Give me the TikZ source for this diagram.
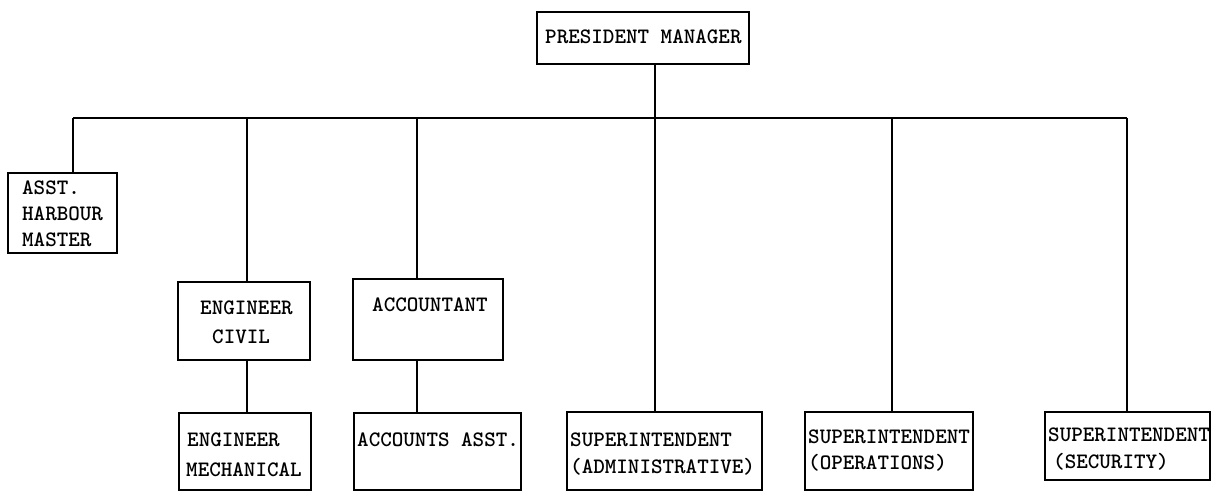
\documentclass[tikz,border=0pt]{standalone}
\begin{document}
\begin{tikzpicture}[x=1pt,y=-1pt,
  unitbox/.style={draw, line width=1.5pt, inner sep=0pt},
  label/.style={anchor=base west, inner sep=0pt, font=\ttfamily\bfseries\fontsize{22}{24}\selectfont},
  link/.style={line width=1.6pt}]
\useasboundingbox[fill=white] (0,0) rectangle (1219,492);

% boxes of the organisation chart
\node[unitbox, minimum width=212pt, minimum height=52pt] (pres)    at (643,38) {};
\node[unitbox, minimum width=109pt, minimum height=80pt] (harbour) at (62.5,213) {};
\node[unitbox, minimum width=132pt, minimum height=78pt] (civil)   at (244,321) {};
\node[unitbox, minimum width=150pt, minimum height=81pt] (acct)    at (428,319.5) {};
\node[unitbox, minimum width=132pt, minimum height=77pt] (mech)    at (245,451.5) {};
\node[unitbox, minimum width=167pt, minimum height=77pt] (accasst) at (437.5,451.5) {};
\node[unitbox, minimum width=195pt, minimum height=78pt] (admin)   at (664.5,451) {};
\node[unitbox, minimum width=168pt, minimum height=78pt] (ops)     at (889,451) {};
\node[unitbox, minimum width=165pt, minimum height=68pt] (sec)     at (1127.5,446) {};

% box texts
\node[label] (t-pres) at (545,44) {PRESIDENT MANAGER};
\node[label] (t-h1) at (22,195) {ASST.};
\node[label] (t-h2) at (22,221) {HARBOUR};
\node[label] (t-h3) at (22,246) {MASTER};
\node[label] (t-c1) at (200,314) {ENGINEER};
\node[label] (t-c2) at (212,343) {CIVIL};
\node[label] (t-a1) at (372,311) {ACCOUNTANT};
\node[label] (t-m1) at (187,446) {ENGINEER};
\node[label] (t-m2) at (186,476) {MECHANICAL};
\node[label] (t-aa) at (357,446) {ACCOUNTS ASST.};
\node[label] (t-ad1) at (570,446) {SUPERINTENDENT};
\node[label] (t-ad2) at (570,473) {(ADMINISTRATIVE)};
\node[label] (t-op1) at (808,443) {SUPERINTENDENT};
\node[label] (t-op2) at (808,469) {(OPERATIONS)};
\node[label] (t-se1) at (1048,441) {SUPERINTENDENT};
\node[label] (t-se2) at (1053,468) {(SECURITY)};

% branch points on the horizontal bus
\coordinate (b1) at (73,118);
\coordinate (b2) at (247,118);
\coordinate (b3) at (417,118);
\coordinate (b4) at (655,118);
\coordinate (b5) at (892,118);
\coordinate (b6) at (1127,118);

% connectors
\draw[link] (b1) -- (b6);
\draw[link] (pres.south -| b4) -- (admin.north -| b4);
\draw[link] (b1) -- (harbour.north -| b1);
\draw[link] (b2) -- (civil.north -| b2);
\draw[link] (b3) -- (acct.north -| b3);
\draw[link] (b5) -- (ops.north -| b5);
\draw[link] (b6) -- (sec.north -| b6);
\draw[link] (civil.south -| b2) -- (mech.north -| b2);
\draw[link] (acct.south -| b3) -- (accasst.north -| b3);
\end{tikzpicture}
\end{document}
